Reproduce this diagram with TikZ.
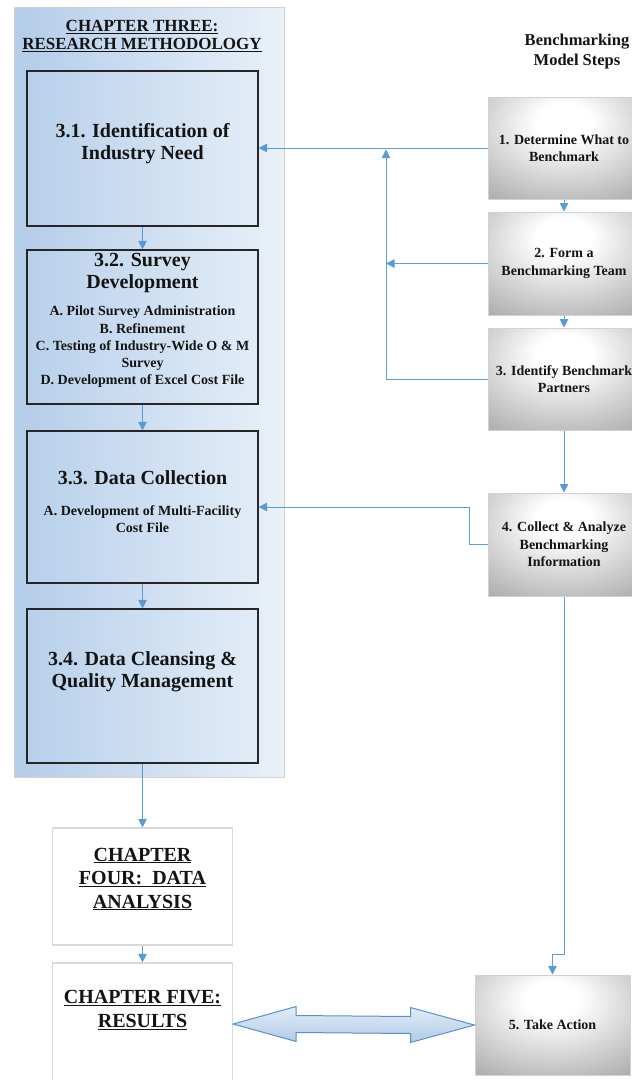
\documentclass[tikz,border=0pt]{standalone}
\usepackage{fontspec}
\setmainfont{Liberation Serif}[BoldFont={Liberation Serif Bold}]
\usetikzlibrary{arrows.meta,calc}
\definecolor{arrowblue}{HTML}{5B9BD5}
\definecolor{panelL}{HTML}{B3CCE9}
\definecolor{panelR}{HTML}{EAF1F9}
\definecolor{boxL}{HTML}{B8D0EB}
\definecolor{boxR}{HTML}{E2ECF7}
\definecolor{txt}{HTML}{141414}
\definecolor{dblTop}{HTML}{E3EDF8}
\definecolor{dblBot}{HTML}{AFC9E6}
\definecolor{dblLine}{HTML}{5B8FCB}
\pgfdeclareradialshading{grayglow}{\pgfpoint{0bp}{14bp}}{color(0bp)=(white); color(9bp)=(white); color(24bp)=(gray!30); color(40bp)=(gray!62); color(50bp)=(gray!72); color(100bp)=(gray!72)}
\newcommand\fMain{\fontsize{20}{22}\selectfont\bfseries}
\newcommand\fTitle{\fontsize{17}{18}\selectfont\bfseries}
\newcommand\fSub{\fontsize{14}{17.2}\selectfont\bfseries}
\newcommand\fStep{\fontsize{14}{17.5}\selectfont\bfseries}
\newcommand\fHead{\fontsize{16.5}{20}\selectfont\bfseries}
\newcommand\fChap{\fontsize{20}{23.5}\selectfont\bfseries}
\tikzset{
  panel/.style={draw=gray!35, line width=1pt, left color=panelL, right color=panelR, inner sep=0pt},
  secbox/.style={draw=black!85, line width=1.1pt, left color=boxL, right color=boxR, inner sep=0pt, minimum width=231pt},
  stepbox/.style={draw=gray!35, line width=1pt, shading=grayglow, inner sep=0pt, align=center, font=\fStep, text=txt},
  chapbox/.style={draw=gray!30, line width=1.2pt, fill=white, inner sep=0pt, minimum width=180pt},
  txtnode/.style={align=center, text=txt, inner sep=0pt},
  conn/.style={draw=arrowblue, line width=1pt, -{Triangle[width=8.5pt,length=8.5pt]}},
  plainline/.style={draw=arrowblue, line width=1pt},
  dblarrow/.style={draw=dblLine, line width=1pt, top color=dblTop, bottom color=dblBot, line join=miter}
}
\begin{document}
\begin{tikzpicture}[x=1pt,y=-1pt]
\useasboundingbox (0,0) rectangle (632,1080);
% Chapter three panel
\node[panel, minimum width=270pt, minimum height=770pt] (panel) at (149,392) {};
\node[txtnode, font=\fTitle] (t3) at (142,36) {\underline{CHAPTER THREE:}\\\underline{RESEARCH METHODOLOGY}};
% section boxes
\node[secbox, minimum height=155pt] (b31) at (142.5,148.5) {};
\node[txtnode, font=\fMain] (t31) at (142.5,144) {3.1. Identification of\\Industry Need};
\node[secbox, minimum height=154pt] (b32) at (142.5,327) {};
\node[txtnode, font=\fMain] (t32a) at (142.5,273) {3.2. Survey\\Development};
\node[txtnode, font=\fSub] (t32b) at (142.5,347) {A. Pilot Survey Administration\\B. Refinement\\C. Testing of Industry-Wide O \& M\\Survey\\D. Development of Excel Cost File};
\node[secbox, minimum height=152pt] (b33) at (142.5,507) {};
\node[txtnode, font=\fMain] (t33a) at (142.5,478) {3.3. Data Collection};
\node[txtnode, font=\fSub] (t33b) at (142.5,519) {A. Development of Multi-Facility\\Cost File};
\node[secbox, minimum height=154pt] (b34) at (142.5,686) {};
\node[txtnode, font=\fMain] (t34) at (142.5,672) {3.4. Data Cleansing \&\\Quality Management};
% chapter four / five
\node[chapbox, minimum height=117pt] (ch4) at (142.5,886.5) {};
\node[txtnode, font=\fChap] (t4) at (142.5,879) {\underline{CHAPTER}\\\underline{FOUR:\ \ DATA}\\\underline{ANALYSIS}};
\node[chapbox, minimum height=122pt] (ch5) at (142.5,1024) {};
\node[txtnode, font=\fChap] (t5) at (142.5,1010) {\underline{CHAPTER FIVE:}\\\underline{RESULTS}};
% benchmarking column
\node[txtnode, font=\fHead] (head) at (577,52) {Benchmarking\\Model Steps};
\node[stepbox, minimum width=152pt, minimum height=102pt] (s1) at (564,148) {1. Determine What to\\Benchmark};
\node[stepbox, minimum width=152pt, minimum height=103pt] (s2) at (564,263.5) {2. Form a\\Benchmarking Team};
\node[stepbox, minimum width=152pt, minimum height=102pt] (s3) at (564,379) {3. Identify Benchmark\\Partners};
\node[stepbox, minimum width=152pt, minimum height=103pt] (s4) at (564,544.5) {4. Collect \& Analyze\\Benchmarking\\Information};
\node[stepbox, minimum width=155pt, minimum height=100pt] (act) at (552.5,1025) {5. Take Action};
% helper coordinates
\coordinate (fbx) at (386,0);
\coordinate (kx) at (469,0);
\coordinate (j) at (564,954);
% left column arrows
\draw[conn] (b31.south) -- (b32.north);
\draw[conn] (b32.south) -- (b33.north);
\draw[conn] (b33.south) -- (b34.north);
\draw[conn] (b34.south) -- (ch4.north);
\draw[conn] (ch4.south) -- (ch5.north);
% right column arrows
\draw[conn] (s1.south) -- (s2.north);
\draw[conn] (s2.south) -- (s3.north);
\draw[conn] (s3.south) -- (s4.north);
\draw[conn] (s4.south) -- (j) -| (act.north);
% feedback arrows
\draw[conn] (s1.west) -- (s1.west -| b31.east);
\draw[conn] (s2.west) -- (s2.west -| fbx);
\draw[conn] (s3.west) -- (s3.west -| fbx) -- ($(fbx |- s1.west)+(0,1.5)$);
\draw[conn] (s4.west) -- (s4.west -| kx) |- (b33.east);
% double arrow
\coordinate (dl) at (ch5.east);
\coordinate (dr) at (act.west);
\draw[dblarrow] (dl) -- ([shift={(63,-17.5)}]dl) -- ([shift={(63,-8.5)}]dl)
  -- ([shift={(-64,-8.5)}]dr) -- ([shift={(-64,-17.5)}]dr) -- (dr)
  -- ([shift={(-64,17.5)}]dr) -- ([shift={(-64,8.5)}]dr)
  -- ([shift={(63,8.5)}]dl) -- ([shift={(63,17.5)}]dl) -- cycle;
\end{tikzpicture}
\end{document}
